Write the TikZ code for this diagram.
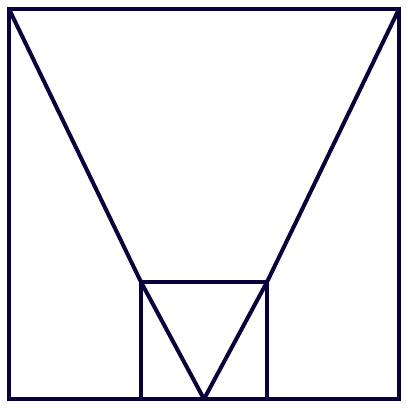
\documentclass[tikz,border=0pt]{standalone}
\definecolor{ink}{RGB}{12,0,58}
\begin{document}
\begin{tikzpicture}[x=1pt,y=-1pt,edge/.style={draw=ink,line width=4pt,line join=miter}]
\useasboundingbox (0,0) rectangle (408,408);
\coordinate (TL) at (9,9);
\coordinate (TR) at (399,9);
\coordinate (BL) at (9,399);
\coordinate (BR) at (399,399);
\coordinate (ITL) at (141,282);
\coordinate (ITR) at (267,282);
\coordinate (IBL) at (141,399);
\coordinate (IBR) at (267,399);
\coordinate (A) at (204,399);
\draw[edge] (TL) rectangle (BR);
\draw[edge] (IBL) -- (ITL) -- (ITR) -- (IBR);
\draw[edge,line join=bevel] (TL) -- (ITL) -- (A) -- (ITR) -- (TR);
\end{tikzpicture}
\end{document}
